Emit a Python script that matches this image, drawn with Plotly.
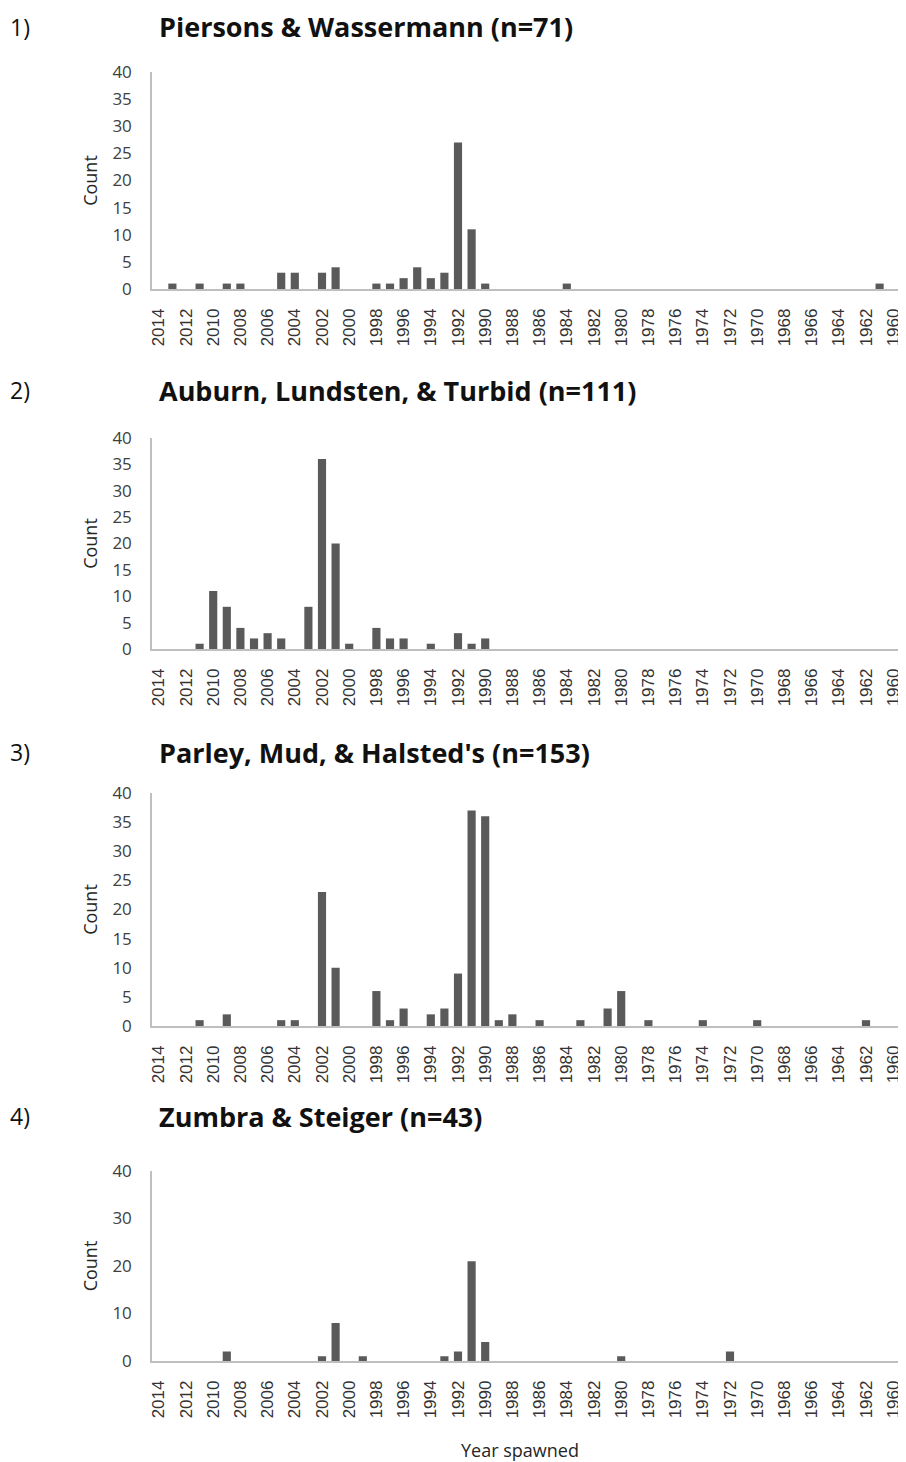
import plotly.graph_objects as go

# the page puts the figure 8 px in from the top-left corner
OFF = 8
W, H = 906 - OFF, 1462 - OFF

all_years = [str(y) for y in range(2014, 1959, -1)]
tick_years = [str(y) for y in range(2014, 1959, -2)]

titles = [
    "Piersons & Wassermann (n=71)",
    "Auburn, Lundsten, & Turbid (n=111)",
    "Parley, Mud, & Halsted's (n=153)",
    "Zumbra & Steiger (n=43)",
]
panel_labels = ["1)", "2)", "3)", "4)"]

years_1 = [2013, 2011, 2009, 2008, 2005, 2004, 2002, 2001, 1998, 1997, 1996, 1995, 1994, 1993, 1992, 1991, 1990, 1984, 1961]
counts_1 = [1, 1, 1, 1, 3, 3, 3, 4, 1, 1, 2, 4, 2, 3, 27, 11, 1, 1, 1]

years_2 = [2011, 2010, 2009, 2008, 2007, 2006, 2005, 2003, 2002, 2001, 2000, 1998, 1997, 1996, 1994, 1992, 1991, 1990]
counts_2 = [1, 11, 8, 4, 2, 3, 2, 8, 36, 20, 1, 4, 2, 2, 1, 3, 1, 2]

years_3 = [2011, 2009, 2005, 2004, 2002, 2001, 1998, 1997, 1996, 1994, 1993, 1992, 1991, 1990, 1989, 1988,
           1986, 1983, 1981, 1980, 1978, 1974, 1970, 1962]
counts_3 = [1, 2, 1, 1, 23, 10, 6, 1, 3, 2, 3, 9, 37, 36, 1, 2,
            1, 1, 3, 6, 1, 1, 1, 1]

years_4 = [2009, 2002, 2001, 1999, 1993, 1992, 1991, 1990, 1980, 1972]
counts_4 = [2, 1, 8, 1, 1, 2, 21, 4, 1, 2]

panels = [(years_1, counts_1), (years_2, counts_2), (years_3, counts_3), (years_4, counts_4)]

# plot areas in page pixels (top, bottom)
boxes = [(72, 289), (438, 649), (793, 1026), (1171, 1361)]
title_y = [27, 390, 752, 1116]
x0, x1 = 152, 900


def px(x):
    return (x - OFF) / W


def py(y):
    return 1 - (y - OFF) / H


bar_color = "#5a5a5a"
axis_color = "#bfbfbf"
tick_font = dict(family="Liberation Sans, Arial", size=17, color="#333333")
y_font = dict(family="Open Sans", size=17, color="#404040")

fig = go.Figure()
layout = dict(
    width=W, height=H,
    margin=dict(l=0, r=0, t=0, b=0, autoexpand=False),
    plot_bgcolor="white", paper_bgcolor="white",
    showlegend=False, bargap=0.4,
)
annotations = []

for i, (yrs, cnts) in enumerate(panels):
    n = i + 1
    xa = "x" if n == 1 else f"x{n}"
    ya = "y" if n == 1 else f"y{n}"
    fig.add_trace(go.Bar(
        x=[str(y) for y in yrs], y=cnts,
        xaxis=xa, yaxis=ya,
        marker=dict(color=bar_color, line=dict(width=0)),
    ))
    top, bot = boxes[i]
    layout["xaxis" if n == 1 else f"xaxis{n}"] = dict(
        domain=[px(x0), px(x1)],
        anchor=ya,
        type="category",
        categoryorder="array", categoryarray=all_years,
        range=[-0.5, len(all_years) - 0.5],
        tickmode="array", tickvals=tick_years, ticktext=tick_years,
        tickangle=-90, tickfont=tick_font, ticklabelstandoff=11,
        showline=True, linecolor=axis_color, linewidth=1.5,
        showgrid=False, ticks="", zeroline=False, automargin=False,
    )
    layout["yaxis" if n == 1 else f"yaxis{n}"] = dict(
        domain=[py(bot), py(top)],
        anchor=xa,
        range=[0, 40],
        dtick=10 if n == 4 else 5,
        tickfont=y_font, ticklabelstandoff=15,
        showline=True, linecolor=axis_color, linewidth=1.5,
        showgrid=False, ticks="", zeroline=False, automargin=False,
        title=dict(text="Count", font=dict(family="Open Sans", size=18, color="#262626"), standoff=10),
    )
    annotations.append(dict(
        text=f"<b>{titles[i]}</b>", x=px(157), y=py(title_y[i]),
        xref="paper", yref="paper", xanchor="left", yanchor="middle",
        showarrow=False, font=dict(family="Open Sans", size=27, color="#111111"),
    ))
    annotations.append(dict(
        text=panel_labels[i], x=px(8), y=py(title_y[i]),
        xref="paper", yref="paper", xanchor="left", yanchor="middle",
        showarrow=False, font=dict(family="Open Sans", size=23, color="#111111"),
    ))

annotations.append(dict(
    text="Year spawned", x=px(520), y=py(1450),
    xref="paper", yref="paper", xanchor="center", yanchor="middle",
    showarrow=False, font=dict(family="Open Sans", size=18, color="#262626"),
))
layout["annotations"] = annotations
fig.update_layout(**layout)

fig.write_html("out.html")
